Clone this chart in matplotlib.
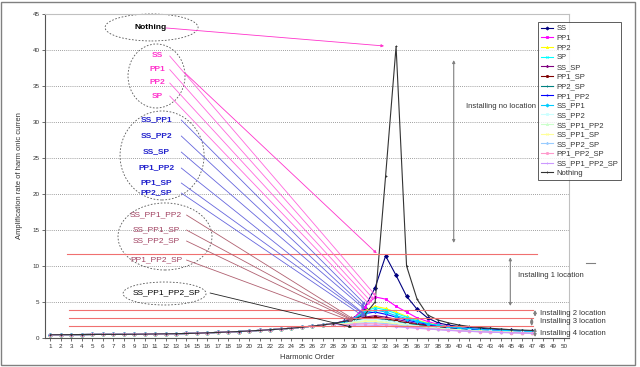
import matplotlib.pyplot as plt
from matplotlib.patches import Ellipse, Rectangle
from matplotlib.lines import Line2D

plt.rcParams['font.family'] = ['Liberation Sans', 'DejaVu Sans']

harmonics = list(range(1, 48))

# orders 1..28 - all the cases sit on the same curve there
low_order = [0.45, 0.46, 0.47, 0.48, 0.49, 0.50, 0.50, 0.51, 0.52, 0.54,
             0.56, 0.58, 0.60, 0.63, 0.67, 0.72, 0.78, 0.84, 0.90, 0.98,
             1.06, 1.15, 1.25, 1.36, 1.50, 1.65, 1.82, 2.00]

# orders 29..47 per case
ss = [2.3, 2.8, 4.2, 7.0, 11.4, 8.7, 5.8, 4.0, 2.8, 2.1, 1.8, 1.6, 1.45, 1.35, 1.25, 1.15, 1.1, 1.0, 0.95]
pp1 = [2.3, 2.8, 4.3, 5.7, 5.4, 4.4, 3.6, 2.8, 2.3, 1.9, 1.6, 1.4, 1.3, 1.2, 1.1, 1.0, 0.95, 0.9, 0.85]
pp2 = [2.2, 2.7, 3.8, 4.4, 4.1, 3.6, 3.0, 2.5, 2.1, 1.8, 1.55, 1.4, 1.25, 1.15, 1.05, 1.0, 0.95, 0.9, 0.85]
sp = [2.2, 2.7, 3.7, 4.2, 3.9, 3.4, 2.9, 2.4, 2.0, 1.7, 1.5, 1.35, 1.2, 1.1, 1.0, 0.95, 0.9, 0.85, 0.8]
ss_sp = [2.1, 2.5, 2.9, 3.1, 2.9, 2.6, 2.3, 2.0, 1.8, 1.6, 1.45, 1.3, 1.2, 1.1, 1.05, 1.0, 0.95, 0.9, 0.85]
pp1_sp = [2.1, 2.5, 2.8, 2.9, 2.7, 2.4, 2.1, 1.9, 1.7, 1.5, 1.4, 1.25, 1.15, 1.1, 1.0, 0.95, 0.9, 0.85, 0.8]
pp2_sp = [2.0, 2.4, 2.7, 2.7, 2.5, 2.25, 2.0, 1.8, 1.6, 1.45, 1.3, 1.2, 1.1, 1.05, 1.0, 0.92, 0.88, 0.82, 0.78]
pp1_pp2 = [2.2, 2.7, 3.4, 3.6, 3.3, 2.9, 2.5, 2.2, 1.9, 1.7, 1.5, 1.35, 1.25, 1.15, 1.1, 1.05, 1.0, 0.95, 0.9]
ss_pp1 = [2.2, 2.7, 3.5, 3.9, 3.6, 3.1, 2.7, 2.3, 2.0, 1.75, 1.55, 1.4, 1.3, 1.2, 1.1, 1.05, 1.0, 0.95, 0.9]
ss_pp2 = [2.0, 2.3, 2.6, 2.6, 2.4, 2.2, 1.9, 1.7, 1.5, 1.4, 1.25, 1.15, 1.05, 1.0, 0.95, 0.9, 0.85, 0.8, 0.75]
ss_pp1_pp2 = [1.9, 2.2, 2.4, 2.4, 2.2, 2.0, 1.8, 1.6, 1.45, 1.3, 1.2, 1.1, 1.0, 0.95, 0.9, 0.85, 0.8, 0.75, 0.7]
ss_pp1_sp = [1.9, 2.1, 2.3, 2.3, 2.1, 1.9, 1.7, 1.55, 1.4, 1.25, 1.15, 1.05, 0.98, 0.92, 0.87, 0.82, 0.78, 0.74, 0.7]
ss_pp2_sp = [1.8, 2.0, 2.1, 2.1, 2.0, 1.8, 1.65, 1.5, 1.35, 1.2, 1.1, 1.02, 0.95, 0.9, 0.85, 0.8, 0.76, 0.72, 0.68]
pp1_pp2_sp = [1.8, 1.9, 2.0, 1.95, 1.85, 1.7, 1.55, 1.4, 1.3, 1.2, 1.1, 1.0, 0.93, 0.87, 0.82, 0.78, 0.74, 0.7, 0.66]
ss_pp1_pp2_sp = [1.7, 1.8, 1.8, 1.75, 1.65, 1.55, 1.45, 1.35, 1.25, 1.15, 1.05, 0.98, 0.92, 0.86, 0.8, 0.76, 0.72, 0.68, 0.64]
nothing = [2.3, 2.6, 3.2, 5.0, 22.5, 40.5, 10.0, 5.4, 3.2, 2.5, 2.1, 1.8, 1.6, 1.45, 1.35, 1.25, 1.15, 1.1, 1.05]

series_names = ['SS', 'PP1', 'PP2', 'SP', 'SS_SP', 'PP1_SP', 'PP2_SP', 'PP1_PP2',
                'SS_PP1', 'SS_PP2', 'SS_PP1_PP2', 'SS_PP1_SP', 'SS_PP2_SP',
                'PP1_PP2_SP', 'SS_PP1_PP2_SP', 'Nothing']
series_high = [ss, pp1, pp2, sp, ss_sp, pp1_sp, pp2_sp, pp1_pp2, ss_pp1, ss_pp2,
               ss_pp1_pp2, ss_pp1_sp, ss_pp2_sp, pp1_pp2_sp, ss_pp1_pp2_sp, nothing]
series_colors = ['#000080', '#FF00FF', '#FFFF00', '#00FFFF', '#800080', '#800000',
                 '#008080', '#0000FF', '#00CCFF', '#CCFFFF', '#CCFFCC', '#FFFF99',
                 '#99CCFF', '#FF99CC', '#CC99FF', '#333333']
series_markers = ['D', 's', '^', 'x', '*', 'o', '+', '.', 'D', 's', '^', 'x', '*', 'o', '+', '+']

# installing-location levels (red lines)
install_levels = [11.6, 3.9, 2.8, 1.7]

# label groups and the y of each label
group_pink = ['SS', 'PP1', 'PP2', 'SP']
group_pink_y = [39.17, 37.29, 35.42, 33.61]
group_blue = ['SS_PP1', 'SS_PP2', 'SS_SP', 'PP1_PP2', 'PP1_SP', 'PP2_SP']
group_blue_y = [30.28, 28.06, 25.83, 23.61, 21.53, 20.14]
group_rose = ['SS_PP1_PP2', 'SS_PP1_SP', 'SS_PP2_SP', 'PP1_PP2_SP']
group_rose_y = [17.08, 15.0, 13.47, 10.83]

fig = plt.figure(figsize=(6.4, 3.67), dpi=100)
ax = fig.add_axes([45 / 640, 29 / 367, 524 / 640, 324 / 367])

for name, high, c, m in zip(series_names, series_high, series_colors, series_markers):
    ax.plot(harmonics, low_order + high, color=c, lw=0.8, marker=m,
            markersize=2, markeredgewidth=0.6, label=name)

ax.set_xlim(0.5, 50.5)
ax.set_ylim(0, 45)
ax.set_xticks(range(1, 51))
ax.set_yticks(range(0, 46, 5))
ax.tick_params(labelsize=4.5, length=2, width=0.5, pad=2, colors='#333333')
for y in range(5, 45, 5):
    ax.axhline(y, color='#808080', lw=0.6, ls=(0, (1, 1.5)), zorder=0)
for s in ['top', 'right']:
    ax.spines[s].set_color('#C0C0C0')
for s in ['left', 'bottom']:
    ax.spines[s].set_color('#555555')
    ax.spines[s].set_linewidth(0.8)
ax.set_xlabel('Harmonic Order', fontsize=5.5, color='#333333', labelpad=4)
ax.set_ylabel('Amplification rate of harm onic curren', fontsize=5.5, color='#333333', labelpad=7)

# red level lines
ax.plot([2.6, 47.4], [install_levels[0]] * 2, color='#F07070', lw=0.8)
for lv in install_levels[1:]:
    ax.plot([2.8, 47.1], [lv, lv], color='#F07070', lw=0.8)

# ellipses round the label groups
ell = dict(fill=False, ls=(0, (2, 2)), lw=0.6, ec='#555555', clip_on=False)
ax.add_patch(Ellipse((10.67, 43.13), 8.87, 3.75, **ell))
ax.add_patch(Ellipse((11.14, 36.39), 5.44, 8.89, **ell))
ax.add_patch(Ellipse((11.67, 25.35), 8.02, 12.36, **ell))
ax.add_patch(Ellipse((11.95, 14.1), 8.97, 9.31, **ell))
ax.add_patch(Ellipse((11.91, 6.18), 7.92, 3.19, **ell))


def pointer(start, end, color):
    ax.annotate('', xy=end, xytext=start, annotation_clip=False,
                arrowprops=dict(arrowstyle='-|>', color=color, lw=0.6,
                                mutation_scale=4, shrinkA=0, shrinkB=0))


# Nothing
ax.text(10.62, 43.06, 'Nothing', fontsize=6, fontweight='bold', ha='center', va='center')
pointer((12.05, 43.06), (32.85, 40.56), '#FF33CC')

# single locations
for lab, y in zip(group_pink, group_pink_y):
    ax.text(11.2, y, lab, fontsize=6, fontweight='bold', color='#FF33CC', ha='center', va='center')
pink_ends = [(32.1, 5.8), (31.9, 5.3), (31.7, 4.9), (31.5, 4.6)]
for y, end in zip(group_pink_y, pink_ends):
    pointer((12.4, y), end, '#FF66DD')
pointer((13.86, 36.81), (32.15, 11.76), '#FF33CC')

# two locations
for lab, y in zip(group_blue, group_blue_y):
    ax.text(11.1, y, lab, fontsize=6, fontweight='bold', color='#2222CC', ha='center', va='center')
blue_ends = [(31.1, 4.6), (31.0, 4.3), (31.0, 4.0), (31.0, 3.3), (31.1, 3.1), (31.0, 2.9)]
for y, end in zip(group_blue_y, blue_ends):
    pointer((13.5, y), end, '#6666DD')

# three locations
for lab, y in zip(group_rose, group_rose_y):
    ax.text(11.1, y, lab, fontsize=6, color='#A04060', ha='center', va='center')
rose_ends = [(29.95, 2.6), (29.9, 2.5), (29.9, 2.4), (29.85, 2.3)]
for y, end in zip(group_rose_y, rose_ends):
    pointer((14.0, y), end, '#B06070')

# four locations
ax.text(12.14, 6.32, 'SS_PP1_PP2_SP', fontsize=6, ha='center', va='center')
pointer((16.25, 6.25), (29.8, 1.5), '#222222')

# installing-location arrows and texts
dbl = dict(arrowstyle='<|-|>', color='#808080', lw=0.8, mutation_scale=4, shrinkA=0, shrinkB=0)
arrows = [((39.5, 38.6), (39.5, 13.2)), ((44.9, 11.2), (44.9, 4.45)),
          ((47.26, 3.89), (47.26, 2.96)), ((46.94, 2.78), (46.94, 1.67)),
          ((47.26, 1.39), (47.26, 0.14))]
for a, b in arrows:
    ax.annotate('', xy=a, xytext=b, arrowprops=dbl, annotation_clip=False)
txt = dict(fontsize=5.5, color='#333333', va='center', ha='left', clip_on=False)
ax.text(40.7, 32.1, 'Installing no location', **txt)
ax.text(45.6, 8.65, 'Installing 1 location', **txt)
ax.text(47.74, 3.47, 'Installing 2 location', **txt)
ax.text(47.74, 2.36, 'Installing 3 location', **txt)
ax.text(47.74, 0.63, 'Installing 4 location', **txt)

# short stray dash right of the plot
fig.add_artist(Line2D([585.7 / 640, 595 / 640], [1 - 263.3 / 367] * 2, color='#808080', lw=0.8))

leg = ax.legend(loc='upper left', bbox_to_anchor=(538 / 640, 1 - 22 / 367),
                bbox_transform=fig.transFigure, fontsize=5.5, frameon=True,
                fancybox=False, borderaxespad=0, labelspacing=0.3,
                handlelength=1.6, handletextpad=0.4, borderpad=0.4, markerscale=0.8)
leg.get_frame().set_edgecolor('#333333')
leg.get_frame().set_linewidth(0.7)
for t in leg.get_texts():
    t.set_color('#333333')

# outer border of the chart area
fig.add_artist(Rectangle((0.002, 0.005), 0.99, 0.99, transform=fig.transFigure,
                         fill=False, ec='#808080', lw=1))

fig.savefig('out.png', dpi=100)
